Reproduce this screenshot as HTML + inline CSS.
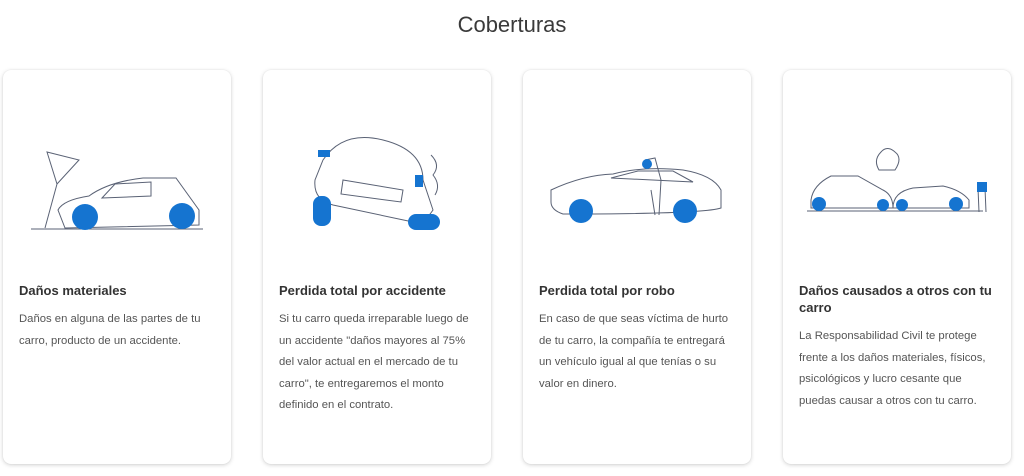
<!DOCTYPE html>
<html><head><meta charset="utf-8"><style>
body{margin:0;width:1024px;height:476px;background:#fff;font-family:"Liberation Sans","DejaVu Sans",sans-serif;position:relative;overflow:hidden}
h1{position:absolute;top:12px;left:0;width:1024px;text-align:center;margin:0;font-weight:normal;font-size:22px;color:#3a3a3a}
.card{position:absolute;top:70px;width:228px;height:394px;background:#fff;border-radius:8px;box-shadow:0 1px 4px rgba(0,0,0,.18),0 0 1px rgba(0,0,0,.1)}
.card svg{position:absolute;left:0;top:60px}
.card h3{position:absolute;left:16px;top:212px;width:200px;margin:0;font-size:13px;line-height:17px;font-weight:bold;color:#333}
.card p{position:absolute;left:16px;width:200px;margin:0;font-size:11.3px;line-height:21.5px;color:#555}
</style></head><body>
<h1>Coberturas</h1>
<div class="card" style="left:3px">
<svg width="228" height="120" fill="none" stroke="#5a6275" stroke-width="1">
<line x1="28" y1="99" x2="200" y2="99"/>
<path d="M44 22 L76 30 L54 54 Z M54 54 L42 98"/>
<path d="M55 80 Q60 70 86 66 Q105 52 140 48 L173 48 L196 80 L196 95 L62 98 Z"/>
<path d="M99 68 L148 66 L148 52 L112 54 Z"/>
<circle cx="82" cy="87" r="13" fill="#1574d0" stroke="none"/><circle cx="179" cy="86" r="13" fill="#1574d0" stroke="none"/>
</svg>
<h3>Daños materiales</h3>
<p style="top:239px">Daños en alguna de las partes de tu carro, producto de un accidente.</p>
</div>
<div class="card" style="left:263px">
<svg width="228" height="120" fill="none" stroke="#5a6275" stroke-width="1">
<path d="M60 30 Q80 0 120 10 Q160 20 160 50 L170 80 Q160 95 150 92 L70 75 Q50 70 52 50 Z"/>
<path d="M80 50 L140 60 L138 72 L78 64 Z"/>
<path d="M168 25 Q178 35 170 45 Q178 55 172 65"/>
<rect x="50" y="66" width="18" height="30" rx="8" fill="#1574d0" stroke="none"/>
<rect x="145" y="84" width="32" height="16" rx="8" fill="#1574d0" stroke="none"/>
<rect x="55" y="20" width="12" height="7" fill="#1574d0" stroke="none"/>
<rect x="152" y="45" width="8" height="12" fill="#1574d0" stroke="none"/>
</svg>
<h3>Perdida total por accidente</h3>
<p style="top:239px">Si tu carro queda irreparable luego de un accidente "daños mayores al 75% del valor actual en el mercado de tu carro", te entregaremos el monto definido en el contrato.</p>
</div>
<div class="card" style="left:523px">
<svg width="228" height="120" fill="none" stroke="#5a6275" stroke-width="1">
<path d="M28 60 Q60 45 90 44 Q120 36 160 40 Q190 45 198 60 L198 78 Q180 84 40 84 Q28 80 28 72 Z"/>
<path d="M88 48 L115 41 L150 41 L170 52 Z"/>
<path d="M122 30 L132 28 L138 50 L136 85 M128 60 L132 85"/>
<circle cx="124" cy="34" r="5" fill="#1574d0" stroke="none"/>
<circle cx="58" cy="81" r="12" fill="#1574d0" stroke="none"/><circle cx="162" cy="81" r="12" fill="#1574d0" stroke="none"/>
</svg>
<h3>Perdida total por robo</h3>
<p style="top:239px">En caso de que seas víctima de hurto de tu carro, la compañía te entregará un vehículo igual al que tenías o su valor en dinero.</p>
</div>
<div class="card" style="left:783px">
<svg width="228" height="120" fill="none" stroke="#5a6275" stroke-width="1">
<line x1="24" y1="81" x2="200" y2="81"/>
<path d="M28 70 Q30 55 48 46 L75 46 L100 60 Q110 65 110 78 L28 78 Z"/>
<path d="M110 78 Q110 62 130 58 L160 56 Q178 60 186 70 L186 78 Z"/>
<path d="M96 40 Q90 30 98 22 Q104 15 112 22 Q120 28 112 40 Z"/>
<path d="M195 58 L196 82 M202 58 L203 82"/>
<rect x="194" y="52" width="10" height="10" fill="#1574d0" stroke="none"/>
<circle cx="36" cy="74" r="7" fill="#1574d0" stroke="none"/><circle cx="100" cy="75" r="6" fill="#1574d0" stroke="none"/>
<circle cx="119" cy="75" r="6" fill="#1574d0" stroke="none"/><circle cx="173" cy="74" r="7" fill="#1574d0" stroke="none"/>
</svg>
<h3>Daños causados a otros con tu carro</h3>
<p style="top:256px">La Responsabilidad Civil te protege frente a los daños materiales, físicos, psicológicos y lucro cesante que puedas causar a otros con tu carro.</p>
</div>
</body></html>
